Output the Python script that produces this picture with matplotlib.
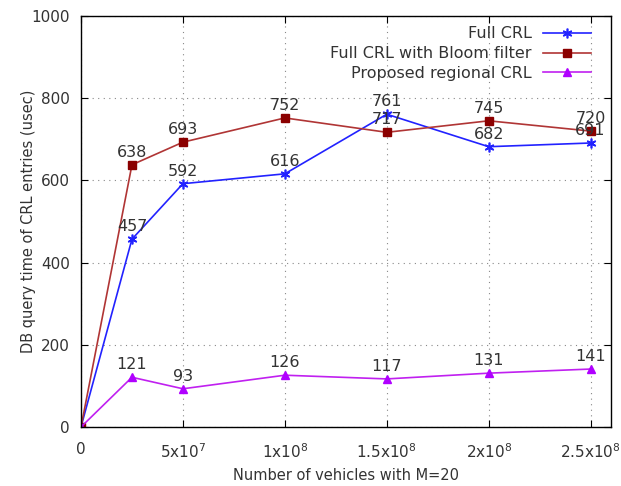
import matplotlib
matplotlib.use("Agg")
import matplotlib.pyplot as plt

x = [0, 2.5e7, 5e7, 1e8, 1.5e8, 2e8, 2.5e8]
full_crl = [0, 457, 592, 616, 761, 682, 691]
bloom = [0, 638, 693, 752, 717, 745, 720]
regional = [0, 121, 93, 126, 117, 131, 141]

xticks = [0, 5e7, 1e8, 1.5e8, 2e8, 2.5e8]
xticklabels = ["0", r"5x10$^{7}$", r"1x10$^{8}$", r"1.5x10$^{8}$", r"2x10$^{8}$", r"2.5x10$^{8}$"]
yticks = [0, 200, 400, 600, 800, 1000]

plt.rcParams['font.family'] = ['DejaVu Sans']
plt.rcParams['mathtext.default'] = 'regular'

fig = plt.figure(figsize=(6.21, 4.86), dpi=100)
ax = fig.add_axes([81/621, 1 - 427/486, (611-81)/621, (427-16)/486])

txt_color = '#333333'
ax.plot(x, full_crl, color='#2222ff', lw=1.2, marker=(6, 2, 0), ms=7, mew=1.2, label='Full CRL')
ax.plot(x, bloom, color='#b03535', lw=1.2, marker='s', ms=6, mfc='#8b0000', mec='#8b0000', label='Full CRL with Bloom filter')
ax.plot(x, regional, color='#c020f0', lw=1.2, marker='^', ms=6, mfc='#b000ff', mec='#b000ff', label='Proposed regional CRL')

for series in (full_crl, bloom, regional):
    for xi, yi in zip(x[1:], series[1:]):
        ax.annotate(str(yi), (xi, yi), xytext=(0, 3.5), textcoords='offset points',
                    ha='center', va='bottom', fontsize=11.5, color=txt_color)

ax.set_xlim(0, 2.6e8)
ax.set_ylim(0, 1000)
ax.set_xticks(xticks)
ax.set_xticklabels(xticklabels)
ax.set_yticks(yticks)
ax.tick_params(direction='in', length=5, top=True, right=True, labelsize=11, colors='black',
               labelcolor=txt_color, pad=8)
ax.tick_params(axis='x', pad=11)
ax.grid(True, linestyle=(0, (1, 4)), color='#888888', lw=0.8)
for s in ax.spines.values():
    s.set_color('black')
    s.set_linewidth(1.0)

ax.set_xlabel('Number of vehicles with M=20', fontsize=10.5, color=txt_color, labelpad=5)
ax.set_ylabel('DB query time of CRL entries (usec)', fontsize=10.5, color=txt_color, labelpad=-3)

leg = ax.legend(loc='upper right', frameon=False, markerfirst=False, fontsize=11.5,
                handlelength=3.0, labelspacing=0.3, borderaxespad=0, handletextpad=0.7)
leg.set_bbox_to_anchor((597 / 621, 1 - 20 / 486), transform=fig.transFigure)
for t in leg.get_texts():
    t.set_color(txt_color)

fig.savefig('out.png', dpi=100)
